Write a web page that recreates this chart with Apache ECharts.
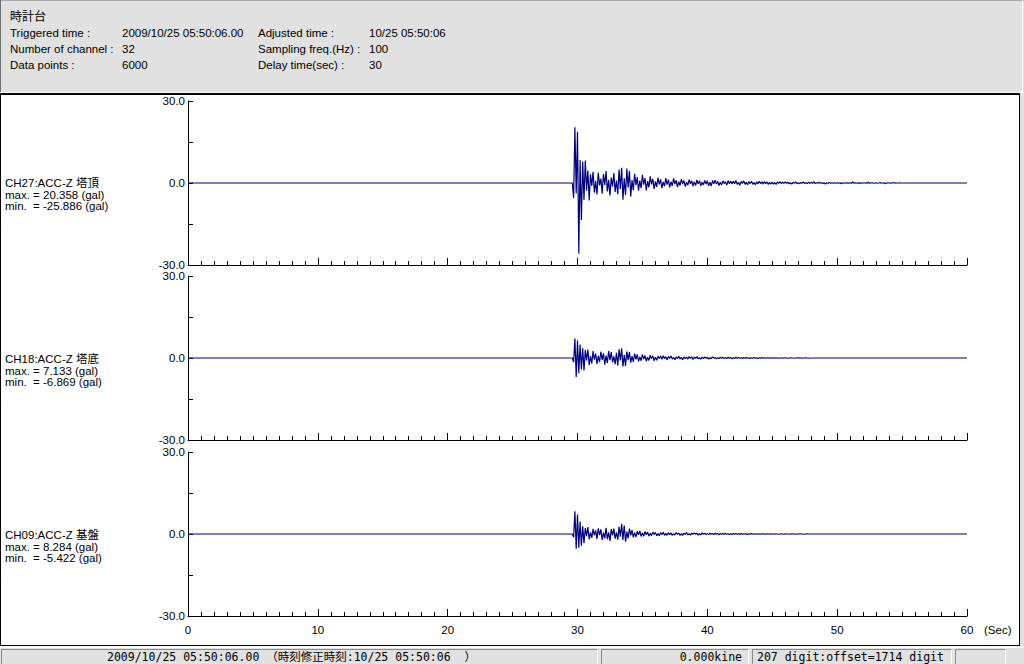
<!DOCTYPE html>
<html><head><meta charset="utf-8">
<script src="https://cdn.jsdelivr.net/npm/echarts@6/dist/echarts.min.js"></script>
<style>html,body{margin:0;padding:0;background:#fff}#c{width:1024px;height:664px}</style>
</head><body><div id="c"></div><script>
// ---- data ----
const headerTitle = '時計台';
const headerLeftLabels = ['Triggered time :', 'Number of channel :', 'Data points :'];
const headerLeftValues = ['2009/10/25 05:50:06.00', '32', '6000'];
const headerRightLabels = ['Adjusted time :', 'Sampling freq.(Hz) :', 'Delay time(sec) :'];
const headerRightValues = ['10/25 05:50:06', '100', '30'];
const channelNames = ['CH27:ACC-Z 塔頂', 'CH18:ACC-Z 塔底', 'CH09:ACC-Z 基盤'];
const maxValues = ['20.358', '7.133', '8.284'];
const minValues = ['-25.886', '-6.869', '-5.422'];
const xTickValues = [0, 10, 20, 30, 40, 50, 60];
const yTickLabels = [-30, 0, 30];
const statusMain = '2009/10/25 05:50:06.00 （時刻修正時刻:10/25 05:50:06  ）';
const statusKine = '0.000kine';
const statusDigit = '207 digit:offset=1714 digit';

// waveform samples (gal), every 0.1 s starting at timeStart (s); zero elsewhere
const timeStart = 29.6;
const timeStep = 0.1;
const ch27 = [0, -5.5, 20.4, -3.8, 18.7, -25.9, 8.4, -13.5, 7.9, -6.2, 8.2, -2.8, 4.6, -6.4,
  3.2, -1.1, 4.1, -3.5, 0.8, -4.2, 3.8, -0.9, 1.6, -3.9,
  3.3, -0.7, 4.4, -3.1, 1.2, -4.6, 2.0, -1.3, 3.6, -3.3,
  0.9, -4.1, 4.9, -2.2, 5.6, -6.1, 1.7, -4.4, 5.3, -1.6,
  4.5, -4.9, 1.1, -2.6, 3.4, -0.8, 2.2, -2.8, 0.9, -1.9,
  3.0, -0.6, 1.8, -2.7, 0.7, -1.6, 2.4, -0.5, 1.5, -2.2,
  0.6, -1.4, 2.0, -0.5, 1.3, -1.9, 0.4, -1.2, 1.8, -0.6,
  1.2, -1.6, 0.5, -1.1, 1.7, -0.4, 1.0, -1.5, 0.5, -0.9,
  1.4, -0.4, 0.9, -1.3, 0.3, -0.8, 1.2, -0.3, 0.8, -1.1,
  0.4, -0.9, 1.1, -0.3, 0.8, -1.0, 0.3, -0.7, 0.9, -0.4,
  0.8, -1.0, 0.3, -1.1, 0.9, -0.3, 1.0, -0.4, 0.6, -0.9,
  0.3, -0.7, 0.8, -0.2, 0.5, -0.8, 0.9, -0.3, 0.7, -0.4,
  0.6, -0.3, 0.9, -0.5, 0.2, -0.8, 0.6, -0.2, 0.8, -0.5,
  0.3, -0.6, 0.5, -0.2, 0.6, -0.5, 0.2, -0.6, 0.4, -0.3,
  0.6, -0.2, 0.4, -0.4, 0.5, -0.2, 0.4, -0.5, 0.2, -0.4,
  0.3, -0.4, 0.1, -0.5, 0.4, -0.1, 0.5, -0.2, 0.3, -0.1,
  0.4, -0.1, 0.3, -0.3, 0.1, -0.4, 0.2, -0.1, 0.4, -0.2,
  0.1, -0.3, 0.2, -0.1, 0.4, -0.2, 0.1, -0.2, 0.3, -0.1,
  0.2, -0.1, 0.5, -0.2, 0.1, -0.1, 0.3, -0.1, 0.1, -0.2,
  0.1, -0.4, 0.1, -0.1, 0.2, -0.1, 0.1, -0.1, 0.1, -0.1,
  0.1, -0.1, 0.1, -0.3, 0.1, -0.1, 0.1, -0.1, 0.1, -0.1,
  0.1, -0.1, 0.4, -0.1, 0.1, -0.1, 0.1, -0.2, 0.1, -0.1,
  0.1, 0, 0.1, -0.1, 0.3, -0.1, 0, 0.1, -0.1, 0,
  0.1, -0.1, 0, 0.2, -0.1, 0, 0.1, -0.3, 0, 0.1,
  0, -0.1, 0.1, 0, 0.2, -0.1, 0, 0, 0.1, 0, 0];
const ch18 = [0, -1.5, 7.1, -6.9, 6.4, -5.6, 4.9, -4.2, 3.6, -4.6, 2.9, -0.9, 3.1, -2.6,
  0.7, -2.1, 2.5, -0.6, 1.6, -2.2, 0.8, -1.5, 2.3, -0.7,
  1.7, -2.4, 0.9, -1.8, 2.5, -0.8, 2.2, -1.6, 0.6, -2.3,
  1.9, -2.8, 3.2, -0.9, 3.5, -3.1, 1.2, -2.9, 2.4, -0.8,
  2.2, -1.7, 0.7, -1.4, 1.6, -0.5, 1.3, -1.2, 0.4, -1.0,
  1.3, -0.4, 0.9, -1.2, 0.3, -0.9, 1.0, -0.3, 0.8, -1.0,
  0.3, -0.8, 0.6, -0.2, 0.7, -0.5, 0.8, -0.2, 0.5, -0.7,
  0.6, -0.2, 0.7, -0.4, 0.2, -0.6, 0.4, -0.2, 0.6, -0.4,
  0.2, -0.6, 0.4, -0.2, 0.3, -0.4, 0.5, -0.1, 0.4, -0.5,
  0.4, -0.1, 0.5, -0.3, 0.1, -0.4, 0.3, -0.2, 0.4, -0.1,
  0.3, -0.4, 0.1, -0.2, 0.4, -0.1, 0.2, -0.3, 0.1, -0.2,
  0.3, -0.1, 0.3, -0.2, 0.1, -0.2, 0.3, -0.1, 0.2, -0.3,
  0.1, -0.2, 0.3, -0.1, 0.2, -0.1, 0.1, -0.2, 0.2, -0.1,
  0.2, -0.1, 0.1, -0.2, 0.1, -0.1, 0.2, -0.1, 0.1, -0.2,
  0.1, -0.1, 0.2, -0.1, 0.1, -0.1, 0.1, -0.1, 0.1, -0.1,
  0.1, -0.1, 0.1, 0, 0.1, -0.1, 0, 0.1, -0.1, 0,
  0.1, 0, -0.1, 0, 0.1, 0, 0, -0.1, 0, 0.1,
  0, 0.1, 0, -0.1, 0, 0, 0.1, 0, -0.1, 0, 0];
const ch09 = [0, -1.2, 8.3, -5.4, 7.1, -5.0, 4.6, -4.3, 2.8, -3.4, 2.2, -0.8, 2.5, -2.0,
  0.6, -1.4, 1.9, -0.5, 1.3, -1.8, 2.1, -0.4, 1.7, -2.2,
  0.5, -1.6, 2.3, -1.9, 0.6, -2.5, 1.8, -0.5, 2.0, -1.7,
  0.6, -2.1, 2.6, -1.0, 3.7, -2.2, 3.1, -2.8, 0.9, -1.6,
  2.0, -0.5, 1.4, -1.2, 0.5, -1.1, 1.0, -0.3, 1.1, -0.9,
  0.4, -0.8, 0.9, -0.3, 0.7, -0.8, 0.3, -0.6, 0.7, -0.2,
  0.6, -0.7, 0.2, -0.6, 0.5, -0.2, 0.6, -0.5, 0.2, -0.5,
  0.5, -0.2, 0.4, -0.5, 0.1, -0.4, 0.5, -0.1, 0.3, -0.5,
  0.1, -0.5, 0.3, -0.1, 0.5, -0.3, 0.1, -0.4, 0.3, -0.1,
  0.4, -0.1, 0.3, -0.4, 0.1, -0.3, 0.4, -0.1, 0.3, -0.2,
  0.1, -0.2, 0.3, -0.1, 0.2, -0.2, 0.3, -0.1, 0.2, -0.3,
  0.2, -0.1, 0.2, -0.2, 0.3, -0.1, 0.1, -0.2, 0.1, -0.2,
  0.2, -0.1, 0.2, -0.1, 0.1, -0.2, 0.2, -0.1, 0.1, -0.1,
  0.1, -0.2, 0.1, -0.1, 0.2, -0.1, 0.1, -0.1, 0.1, -0.1,
  0.1, -0.1, 0.1, 0, 0.1, -0.1, 0.1, 0, -0.1, 0.1,
  0, -0.1, 0.1, 0, 0, -0.1, 0, 0.1, 0, -0.1,
  0.1, 0, 0, -0.1, 0, 0.1, 0, 0, -0.1, 0,
  0, 0.1, 0, 0, -0.1, 0, 0, 0.1, 0, 0, 0];
const waves = [ch27, ch18, ch09];

// ---- layout ----
const FONT = "'Liberation Sans','Noto Sans CJK JP',sans-serif";
const MONO = "'DejaVu Sans Mono','Noto Sans CJK JP',monospace";
const gridLeft = 188, gridWidth = 779, gridHeight = 164;
const gridTops = [101, 276, 452];

function build(vals) {
  const d = [[0, 0]];
  vals.forEach((v, i) => d.push([+(timeStart + i * timeStep).toFixed(2), v]));
  d.push([60, 0]);
  return d;
}

const grids = [], xAxes = [], yAxes = [], series = [];
gridTops.forEach((top, i) => {
  grids.push({ left: gridLeft, top: top, width: gridWidth, height: gridHeight });
  const last = i === gridTops.length - 1;
  xAxes.push({
    type: 'value', gridIndex: i, min: xTickValues[0], max: xTickValues[xTickValues.length - 1], interval: 10,
    axisLine: { show: true, onZero: false, lineStyle: { color: '#000', width: 1 } },
    axisTick: { show: true, inside: true, length: 7, lineStyle: { color: '#000' } },
    minorTick: { show: true, splitNumber: 10, length: 4, lineStyle: { color: '#000' } },
    splitLine: { show: false },
    axisLabel: { show: last, color: '#000', fontFamily: FONT, fontSize: 11.5, margin: 8 }
  });
  yAxes.push({
    type: 'value', gridIndex: i, min: -30, max: 30, interval: 15,
    axisLine: { show: true, onZero: false, lineStyle: { color: '#000', width: 1 } },
    axisTick: { show: true, inside: true, length: 5, lineStyle: { color: '#000' } },
    splitLine: { show: false },
    axisLabel: {
      color: '#000', fontFamily: FONT, fontSize: 11.5, margin: 3,
      formatter: v => yTickLabels.indexOf(v) >= 0 ? v.toFixed(1) : ''
    }
  });
  series.push({
    type: 'line', xAxisIndex: i, yAxisIndex: i, data: build(waves[i]),
    showSymbol: false, symbol: 'none', animation: false, sampling: null,
    lineStyle: { color: '#00007f', width: 1.2 }, z: 3
  });
});

const g = [];
function txt(x, y, s, font, extra) {
  g.push(Object.assign({ type: 'text', x: x, y: y, silent: true, z: 10,
    style: Object.assign({ text: s, font: font, fill: '#000', align: 'left', verticalAlign: 'middle' }, extra || {}) }));
}
function ln(x1, y1, x2, y2, c, w) {
  g.push({ type: 'line', silent: true, z: 9, shape: { x1, y1, x2, y2 }, style: { stroke: c, lineWidth: w || 1 } });
}
function rect(x, y, w, h, fill) {
  g.push({ type: 'rect', silent: true, z: 1, shape: { x, y, width: w, height: h }, style: { fill: fill } });
}
// header
rect(0, 0, 1024, 92, '#e1e1e1');
ln(0, 0.5, 1024, 0.5, '#a8a8a8');
ln(0.5, 0, 0.5, 92, '#6e6e6e');
ln(1022.5, 0, 1022.5, 92, '#ffffff');
ln(0, 92.5, 1024, 92.5, '#ffffff');
ln(0, 94, 1020, 94, '#000', 2);
txt(10, 17, headerTitle, '12px ' + FONT);
const rowsY = [33, 49, 65];
rowsY.forEach((y, i) => {
  txt(10, y, headerLeftLabels[i], '11.5px ' + FONT);
  txt(122, y, headerLeftValues[i], '11.5px ' + FONT);
  txt(258, y, headerRightLabels[i], '11.5px ' + FONT);
  txt(369, y, headerRightValues[i], '11.5px ' + FONT);
});
// plot frame
ln(0.5, 94, 0.5, 646, '#000');
ln(1019.5, 94, 1019.5, 646, '#000');
ln(0, 645.5, 1020, 645.5, '#000');
rect(1020, 93, 4, 554, '#e1e1e1');
// channel labels
const zeroY = [183, 359, 535];
zeroY.forEach((y, i) => {
  txt(5, y, channelNames[i], '11.5px ' + FONT);
  txt(5, y + 11.5, 'max. = ' + maxValues[i] + ' (gal)', '11.5px ' + FONT);
  txt(5, y + 23, 'min.\u00a0 = ' + minValues[i] + ' (gal)', '11.5px ' + FONT);
});
txt(984, 630, '(Sec)', '11.5px ' + FONT);
// status bar
rect(0, 647, 1024, 17, '#e1e1e1');
ln(0, 647.5, 1024, 647.5, '#ffffff');
function box(x1, x2) {
  ln(x1, 649.5, x2, 649.5, '#8a8a8a');
  ln(x1 + 0.5, 649.5, x1 + 0.5, 664, '#8a8a8a');
  ln(x2 - 0.5, 649.5, x2 - 0.5, 664, '#ffffff');
}
box(1, 598); box(601, 749); box(752, 952); box(955, 1006);
txt(107, 657, statusMain, '11.5px ' + MONO);
txt(742, 657, statusKine, '11.5px ' + MONO, { align: 'right' });
txt(757, 657, statusDigit, '11.5px ' + MONO);

const chart = echarts.init(document.getElementById('c'), null, { renderer: 'svg' });
chart.setOption({
  animation: false,
  backgroundColor: '#ffffff',
  grid: grids, xAxis: xAxes, yAxis: yAxes, series: series,
  graphic: { elements: g }
});
</script></body></html>
